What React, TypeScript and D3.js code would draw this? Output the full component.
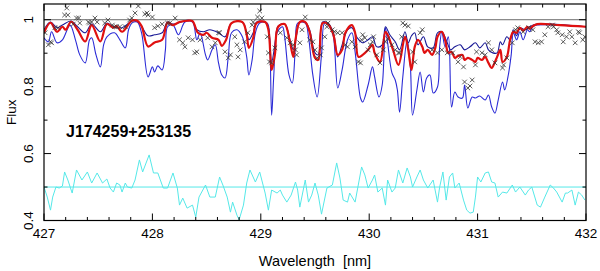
import React from 'react';
import * as d3 from 'd3';

// model with the best fit (red)
const redWl = [427.00, 427.06, 427.12, 427.17, 427.20, 427.25, 427.31, 427.38, 427.44, 427.52, 427.58, 427.64, 427.67, 427.72, 427.81, 427.86, 427.90, 427.96, 428.02, 428.09, 428.14, 428.19, 428.25, 428.32, 428.37, 428.42, 428.47, 428.50, 428.55, 428.61, 428.64, 428.68, 428.73, 428.83, 428.87, 428.89, 428.93, 428.96, 429.04, 429.07, 429.10, 429.13, 429.16, 429.22, 429.27, 429.30, 429.32, 429.36, 429.41, 429.45, 429.50, 429.53, 429.57, 429.62, 429.67, 429.71, 429.75, 429.78, 429.84, 429.87, 429.90, 429.94, 429.99, 430.03, 430.05, 430.10, 430.15, 430.17, 430.22, 430.27, 430.33, 430.36, 430.39, 430.42, 430.45, 430.49, 430.51, 430.54, 430.58, 430.61, 430.63, 430.67, 430.70, 430.73, 430.76, 430.79, 430.82, 430.86, 430.88, 430.91, 430.95, 430.98, 431.00, 431.04, 431.07, 431.10, 431.13, 431.16, 431.18, 431.21, 431.23, 431.27, 431.30, 431.33, 431.36, 431.39, 431.42, 431.46, 431.48, 431.51, 431.55, 431.76, 432.00];
const redFlux = [0.961, 0.991, 0.964, 0.979, 0.970, 0.994, 0.970, 0.935, 0.984, 0.935, 0.987, 0.976, 0.981, 0.964, 0.997, 0.997, 0.981, 0.920, 0.932, 0.940, 0.991, 0.984, 0.993, 0.997, 0.996, 0.961, 0.955, 0.961, 0.946, 0.940, 0.922, 0.940, 0.990, 0.993, 0.955, 0.916, 0.946, 0.990, 0.993, 0.970, 0.850, 0.895, 0.979, 0.987, 0.931, 0.889, 0.940, 0.993, 0.993, 0.964, 0.886, 0.880, 0.990, 0.987, 0.955, 0.895, 0.910, 0.961, 0.984, 0.961, 0.889, 0.895, 0.910, 0.925, 0.901, 0.874, 0.964, 0.955, 0.910, 0.865, 0.949, 0.910, 0.850, 0.919, 0.940, 0.919, 0.901, 0.910, 0.895, 0.916, 0.949, 0.964, 0.940, 0.901, 0.904, 0.886, 0.892, 0.895, 0.880, 0.886, 0.880, 0.874, 0.886, 0.880, 0.889, 0.871, 0.856, 0.874, 0.889, 0.910, 0.874, 0.889, 0.940, 0.964, 0.961, 0.976, 0.967, 0.979, 0.973, 0.981, 0.987, 0.984, 0.979];

// upper model (dark blue)
const upWl = [427.00, 427.06, 427.12, 427.17, 427.25, 427.31, 427.38, 427.44, 427.52, 427.58, 427.64, 427.72, 427.81, 427.86, 427.90, 427.96, 428.02, 428.09, 428.14, 428.19, 428.32, 428.37, 428.41, 428.47, 428.53, 428.61, 428.67, 428.73, 428.83, 428.87, 428.89, 428.93, 428.96, 429.04, 429.07, 429.10, 429.13, 429.16, 429.22, 429.27, 429.30, 429.33, 429.36, 429.41, 429.45, 429.50, 429.53, 429.57, 429.62, 429.67, 429.71, 429.75, 429.80, 429.84, 429.89, 429.94, 429.99, 430.03, 430.07, 430.12, 430.15, 430.19, 430.24, 430.28, 430.33, 430.36, 430.39, 430.42, 430.45, 430.50, 430.54, 430.59, 430.63, 430.67, 430.72, 430.75, 430.79, 430.84, 430.88, 430.93, 430.98, 431.02, 431.07, 431.10, 431.14, 431.18, 431.21, 431.23, 431.27, 431.30, 431.33, 431.36, 431.39, 431.44, 431.48, 431.55, 432.00];
const upFlux = [0.970, 0.993, 0.976, 0.984, 0.996, 0.979, 0.961, 0.987, 0.964, 0.990, 0.979, 0.976, 0.996, 0.996, 0.981, 0.952, 0.955, 0.961, 0.993, 0.987, 0.998, 0.996, 0.970, 0.964, 0.970, 0.961, 0.949, 0.990, 0.993, 0.961, 0.940, 0.961, 0.993, 0.993, 0.976, 0.874, 0.925, 0.981, 0.987, 0.940, 0.910, 0.955, 0.993, 0.993, 0.970, 0.901, 0.895, 0.993, 0.990, 0.961, 0.889, 0.925, 0.970, 0.976, 0.946, 0.931, 0.940, 0.949, 0.919, 0.925, 0.979, 0.955, 0.934, 0.910, 0.964, 0.931, 0.952, 0.961, 0.925, 0.949, 0.919, 0.916, 0.961, 0.964, 0.931, 0.910, 0.919, 0.925, 0.910, 0.919, 0.931, 0.916, 0.931, 0.910, 0.901, 0.901, 0.934, 0.925, 0.949, 0.940, 0.970, 0.952, 0.976, 0.970, 0.979, 0.987, 0.979];

// lower model (blue)
const lowWl = [427.00, 427.04, 427.07, 427.12, 427.17, 427.24, 427.29, 427.33, 427.38, 427.42, 427.44, 427.48, 427.52, 427.55, 427.58, 427.65, 427.70, 427.75, 427.78, 427.81, 427.86, 427.90, 427.96, 428.00, 428.02, 428.05, 428.09, 428.12, 428.14, 428.19, 428.24, 428.30, 428.37, 428.41, 428.44, 428.49, 428.51, 428.55, 428.58, 428.61, 428.64, 428.67, 428.70, 428.73, 428.78, 428.83, 428.87, 428.89, 428.92, 428.95, 428.99, 429.06, 429.08, 429.10, 429.12, 429.15, 429.20, 429.22, 429.26, 429.29, 429.32, 429.34, 429.41, 429.44, 429.48, 429.52, 429.56, 429.59, 429.64, 429.67, 429.71, 429.75, 429.80, 429.84, 429.87, 429.92, 429.94, 429.99, 430.03, 430.05, 430.09, 430.12, 430.15, 430.17, 430.21, 430.24, 430.26, 430.28, 430.31, 430.35, 430.38, 430.40, 430.44, 430.47, 430.50, 430.53, 430.56, 430.59, 430.63, 430.65, 430.67, 430.70, 430.73, 430.76, 430.79, 430.82, 430.86, 430.88, 430.91, 430.95, 430.98, 431.02, 431.07, 431.10, 431.13, 431.16, 431.19, 431.23, 431.25, 431.28, 431.31, 431.33, 431.36, 431.39, 431.42, 431.46, 431.48, 431.51, 431.55, 432.00];
const lowFlux = [0.946, 0.934, 0.964, 0.931, 0.940, 0.984, 0.940, 0.895, 0.871, 0.940, 0.946, 0.895, 0.859, 0.925, 0.949, 0.961, 0.940, 0.916, 0.970, 0.990, 0.993, 0.961, 0.829, 0.859, 0.844, 0.862, 0.850, 0.910, 0.979, 0.984, 0.955, 0.993, 0.993, 0.940, 0.961, 0.895, 0.880, 0.910, 0.925, 0.871, 0.835, 0.826, 0.889, 0.961, 0.970, 0.949, 0.889, 0.835, 0.880, 0.961, 0.990, 0.990, 0.949, 0.715, 0.835, 0.961, 0.979, 0.949, 0.835, 0.811, 0.925, 0.990, 0.990, 0.949, 0.835, 0.769, 0.895, 0.990, 0.976, 0.949, 0.796, 0.850, 0.940, 0.961, 0.904, 0.766, 0.754, 0.805, 0.859, 0.829, 0.769, 0.805, 0.976, 0.931, 0.841, 0.820, 0.790, 0.724, 0.829, 0.940, 0.859, 0.715, 0.790, 0.844, 0.784, 0.826, 0.835, 0.781, 0.799, 0.919, 0.964, 0.919, 0.949, 0.739, 0.784, 0.769, 0.766, 0.805, 0.736, 0.769, 0.766, 0.772, 0.760, 0.775, 0.739, 0.721, 0.760, 0.814, 0.790, 0.829, 0.895, 0.961, 0.940, 0.964, 0.940, 0.970, 0.964, 0.979, 0.984, 0.979];

// observed spectrum (crosses)
const obsWl = [427.01, 427.04, 427.06, 427.07, 427.10, 427.13, 427.19, 427.21, 427.22, 427.27, 427.30, 427.32, 427.33, 427.41, 427.42, 427.44, 427.47, 427.49, 427.56, 427.59, 427.63, 427.65, 427.67, 427.70, 427.75, 427.79, 427.81, 427.84, 427.87, 427.93, 427.95, 427.96, 428.00, 428.02, 428.05, 428.09, 428.14, 428.16, 428.21, 428.25, 428.28, 428.30, 428.33, 428.37, 428.39, 428.41, 428.44, 428.51, 428.55, 428.58, 428.61, 428.62, 428.67, 428.70, 428.72, 428.76, 428.78, 428.79, 428.81, 428.85, 428.88, 428.92, 428.93, 428.97, 428.99, 429.01, 429.06, 429.07, 429.08, 429.10, 429.13, 429.18, 429.24, 429.27, 429.30, 429.32, 429.33, 429.36, 429.38, 429.41, 429.45, 429.48, 429.50, 429.52, 429.55, 429.56, 429.59, 429.61, 429.62, 429.66, 429.68, 429.71, 429.75, 429.78, 429.80, 429.84, 429.87, 429.90, 429.92, 429.93, 429.94, 429.96, 429.99, 430.01, 430.03, 430.04, 430.07, 430.10, 430.13, 430.15, 430.17, 430.21, 430.24, 430.27, 430.28, 430.30, 430.31, 430.33, 430.36, 430.40, 430.42, 430.47, 430.49, 430.58, 430.63, 430.67, 430.72, 430.77, 430.82, 430.84, 430.87, 430.88, 430.91, 430.93, 430.95, 430.98, 430.99, 431.04, 431.07, 431.10, 431.13, 431.16, 431.23, 431.24, 431.27, 431.32, 431.35, 431.37, 431.42, 431.47, 431.51, 431.53, 431.56, 431.59, 431.62, 431.65, 431.69, 431.70, 431.73, 431.74, 431.78, 431.79, 431.82, 431.85, 431.87, 431.90, 431.93, 431.94, 431.97, 431.99];
const obsFlux = [0.961, 0.925, 0.934, 0.931, 0.976, 0.976, 1.014, 1.035, 1.014, 0.987, 1.005, 1.005, 0.990, 0.993, 0.990, 0.993, 1.005, 0.993, 0.990, 0.999, 0.984, 0.979, 0.979, 0.979, 0.979, 0.999, 1.005, 1.020, 1.041, 1.017, 1.020, 1.014, 1.008, 0.976, 0.981, 0.987, 0.990, 0.990, 1.005, 0.940, 0.931, 0.919, 0.946, 0.940, 0.901, 0.904, 0.940, 0.946, 0.919, 0.931, 0.961, 0.961, 0.904, 0.886, 0.895, 0.949, 0.925, 0.889, 0.910, 0.934, 0.961, 0.984, 0.993, 1.008, 1.026, 1.005, 0.949, 0.901, 0.874, 0.871, 0.916, 0.961, 0.946, 0.931, 0.925, 0.910, 0.895, 0.931, 0.970, 1.008, 0.940, 0.934, 0.910, 0.886, 0.895, 0.916, 0.949, 0.979, 0.990, 0.970, 0.964, 0.961, 0.961, 0.925, 0.919, 0.934, 0.919, 0.874, 0.871, 0.940, 0.955, 0.946, 0.910, 0.925, 0.934, 0.949, 0.895, 0.871, 0.910, 0.934, 0.943, 0.925, 0.910, 0.901, 0.901, 0.949, 0.990, 0.984, 0.981, 0.904, 0.874, 0.961, 0.970, 0.910, 0.901, 0.910, 0.901, 0.901, 0.874, 0.889, 0.859, 0.814, 0.796, 0.802, 0.820, 0.865, 0.904, 0.901, 0.895, 0.931, 0.910, 0.871, 0.856, 0.865, 0.886, 0.931, 0.970, 0.976, 0.964, 0.976, 0.970, 0.934, 0.931, 0.934, 0.955, 0.979, 0.984, 0.979, 0.970, 0.961, 0.955, 0.934, 0.949, 0.964, 0.949, 0.931, 0.964, 0.961, 0.940, 0.949];

// residuals (cyan)
const resWl = [427.00, 427.03, 427.06, 427.08, 427.11, 427.14, 427.17, 427.19, 427.22, 427.26, 427.30, 427.35, 427.40, 427.44, 427.49, 427.54, 427.58, 427.61, 427.64, 427.67, 427.70, 427.72, 427.75, 427.77, 427.81, 427.84, 427.88, 427.91, 427.97, 428.01, 428.05, 428.10, 428.14, 428.19, 428.23, 428.25, 428.28, 428.32, 428.37, 428.40, 428.43, 428.49, 428.53, 428.58, 428.62, 428.65, 428.69, 428.72, 428.74, 428.78, 428.80, 428.84, 428.87, 428.90, 428.95, 428.99, 429.04, 429.07, 429.10, 429.15, 429.18, 429.20, 429.24, 429.28, 429.32, 429.34, 429.36, 429.41, 429.44, 429.47, 429.50, 429.53, 429.56, 429.61, 429.66, 429.70, 429.73, 429.76, 429.80, 429.82, 429.87, 429.93, 429.96, 429.99, 430.03, 430.05, 430.08, 430.12, 430.15, 430.17, 430.21, 430.24, 430.27, 430.31, 430.35, 430.38, 430.40, 430.44, 430.47, 430.50, 430.54, 430.59, 430.63, 430.65, 430.68, 430.71, 430.74, 430.77, 430.79, 430.83, 430.87, 430.90, 430.93, 430.96, 430.98, 431.00, 431.03, 431.07, 431.10, 431.13, 431.16, 431.19, 431.23, 431.27, 431.32, 431.35, 431.39, 431.44, 431.47, 431.50, 431.55, 431.58, 431.62, 431.67, 431.70, 431.73, 431.78, 431.81, 431.83, 431.87, 431.90, 431.93, 431.96, 431.99];
const resFlux = [0.500, 0.470, 0.431, 0.470, 0.500, 0.497, 0.503, 0.545, 0.521, 0.482, 0.551, 0.521, 0.545, 0.512, 0.542, 0.512, 0.524, 0.497, 0.485, 0.512, 0.506, 0.485, 0.512, 0.500, 0.497, 0.521, 0.581, 0.545, 0.596, 0.542, 0.542, 0.497, 0.497, 0.542, 0.497, 0.446, 0.467, 0.437, 0.446, 0.410, 0.470, 0.506, 0.470, 0.470, 0.530, 0.506, 0.470, 0.425, 0.455, 0.416, 0.402, 0.446, 0.512, 0.551, 0.515, 0.545, 0.482, 0.431, 0.491, 0.482, 0.491, 0.476, 0.455, 0.476, 0.515, 0.491, 0.440, 0.521, 0.455, 0.476, 0.512, 0.476, 0.419, 0.497, 0.506, 0.572, 0.527, 0.461, 0.455, 0.482, 0.455, 0.560, 0.536, 0.497, 0.521, 0.536, 0.485, 0.497, 0.446, 0.521, 0.485, 0.497, 0.551, 0.512, 0.557, 0.530, 0.500, 0.530, 0.551, 0.521, 0.497, 0.521, 0.455, 0.500, 0.545, 0.461, 0.530, 0.542, 0.497, 0.512, 0.461, 0.431, 0.422, 0.425, 0.470, 0.530, 0.515, 0.542, 0.545, 0.515, 0.512, 0.470, 0.485, 0.482, 0.506, 0.485, 0.500, 0.476, 0.491, 0.500, 0.446, 0.440, 0.470, 0.506, 0.497, 0.485, 0.455, 0.482, 0.482, 0.491, 0.446, 0.485, 0.476, 0.461];

const xMajor = [427, 428, 429, 430, 431, 432];
const yMajor = [0.4, 0.6, 0.8, 1];
const yMinor = [0.5, 0.7, 0.9];

const W = 600;
const H = 271;
const M = { left: 44, right: 14, top: 4, bottom: 50.5 };
const FONT = '"Liberation Sans", Arial, Helvetica, sans-serif';

export default function App() {
  const x = d3.scaleLinear().domain([427, 432]).range([M.left, W - M.right]);
  const y = d3.scaleLinear().domain([0.4, 1.047]).range([H - M.bottom, M.top]);
  const x0 = M.left, x1 = W - M.right, y0 = H - M.bottom, y1 = M.top;

  const path = (wl: number[], fl: number[], curve: d3.CurveFactory) =>
    d3.line<number>().x(i => x(wl[i])).y(i => y(fl[i])).curve(curve)(d3.range(wl.length)) || '';
  const smooth = d3.curveCatmullRom.alpha(0.5);

  const xMinor = d3.range(427, 432.001, 0.2).filter(v => Math.abs(v - Math.round(v)) > 0.01);

  return (
    <svg width={W} height={H} style={{ position: 'absolute', left: 0, top: 0, background: '#fff' }}
      fontFamily={FONT}>
      <defs>
        <clipPath id="plot"><rect x={x0} y={y1} width={x1 - x0} height={y0 - y1} /></clipPath>
      </defs>
      <g clipPath="url(#plot)" fill="none">
        <line x1={x0} x2={x1} y1={y(1)} y2={y(1)} stroke="#444" strokeWidth={0.8} />
        <line x1={x0} x2={x1} y1={y(0.5)} y2={y(0.5)} stroke="#55e8e8" strokeWidth={1} />
        <path d={path(resWl, resFlux, d3.curveLinear)} stroke="#55e8e8" strokeWidth={1} />
        <path d={path(lowWl, lowFlux, smooth)} stroke="#2b2bd6" strokeWidth={1.1} />
        <path d={path(upWl, upFlux, smooth)} stroke="#1a1a96" strokeWidth={1.1} />
        <path d={path(redWl, redFlux, smooth)} stroke="#e01010" strokeWidth={2.2} />
        {obsWl.map((w, i) => (
          <path key={i} transform={`translate(${x(w)},${y(obsFlux[i])})`}
            d="M-2.3,-2.3L2.3,2.3M-2.3,2.3L2.3,-2.3" stroke="#333" strokeWidth={0.8} />
        ))}
      </g>
      <rect x={x0} y={y1} width={x1 - x0} height={y0 - y1} fill="none" stroke="#000" strokeWidth={1.2} />
      {xMajor.map(v => (
        <g key={'xm' + v}>
          <line x1={x(v)} x2={x(v)} y1={y0} y2={y0 - 7} stroke="#000" />
          <line x1={x(v)} x2={x(v)} y1={y1} y2={y1 + 7} stroke="#000" />
          <text x={x(v)} y={238} textAnchor="middle" fontSize={13.5}>{v}</text>
        </g>
      ))}
      {xMinor.map(v => (
        <g key={'xn' + v}>
          <line x1={x(v)} x2={x(v)} y1={y0} y2={y0 - 3.5} stroke="#000" />
          <line x1={x(v)} x2={x(v)} y1={y1} y2={y1 + 3.5} stroke="#000" />
        </g>
      ))}
      {yMajor.map(v => (
        <g key={'ym' + v}>
          <line x1={x0} x2={x0 + 7} y1={y(v)} y2={y(v)} stroke="#000" />
          <line x1={x1} x2={x1 - 7} y1={y(v)} y2={y(v)} stroke="#000" />
          <text transform={`translate(33,${y(v)}) rotate(-90)`} textAnchor="middle" fontSize={13.5}>
            {v === 1 ? '1' : v.toFixed(1)}
          </text>
        </g>
      ))}
      {yMinor.map(v => (
        <g key={'yn' + v}>
          <line x1={x0} x2={x0 + 3.5} y1={y(v)} y2={y(v)} stroke="#000" />
          <line x1={x1} x2={x1 - 3.5} y1={y(v)} y2={y(v)} stroke="#000" />
        </g>
      ))}
      <text transform={`translate(16,${(y0 + y1) / 2}) rotate(-90)`} textAnchor="middle" fontSize={13.5}>Flux</text>
      <text x={(x0 + x1) / 2} y={266} textAnchor="middle" fontSize={14.5} style={{ whiteSpace: 'pre' }}>{'Wavelength  [nm]'}</text>
      <text x={66} y={137} fontSize={16} fontWeight="bold">J174259+253135</text>
    </svg>
  );
}
